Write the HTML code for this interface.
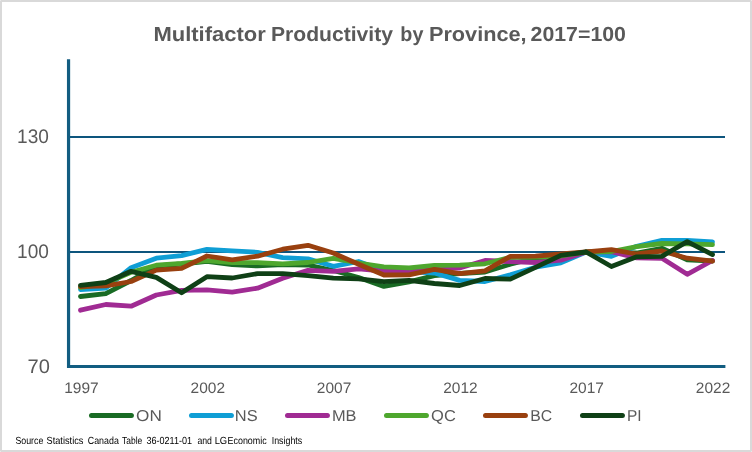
<!DOCTYPE html>
<html><head><meta charset="utf-8"><title>Multifactor Productivity by Province</title>
<style>
html,body{margin:0;padding:0;background:#fff;}
body{width:752px;height:452px;overflow:hidden;font-family:"Liberation Sans",sans-serif;}
svg{display:block;font-family:"Liberation Sans",sans-serif;text-rendering:geometricPrecision;}
</style></head><body>
<svg width="752" height="452" viewBox="0 0 752 452">
<rect x="0" y="0" width="752" height="452" fill="#d9d9d9"/>
<rect x="2" y="2" width="748" height="448" fill="#ffffff"/>
<rect x="0" y="0" width="1" height="1" fill="#e8e8e8"/><rect x="751" y="0" width="1" height="1" fill="#e8e8e8"/><rect x="0" y="451" width="1" height="1" fill="#e8e8e8"/><rect x="751" y="451" width="1" height="1" fill="#e8e8e8"/>
<line x1="68.5" y1="137" x2="725" y2="137" stroke="#0d557d" stroke-width="2"/>
<line x1="68.5" y1="252" x2="725" y2="252" stroke="#0d557d" stroke-width="2"/>
<polyline points="80.5,296.5 105.8,293.6 131.1,280.5 156.3,266.0 181.6,264.0 206.9,261.3 232.2,264.7 257.5,265.9 282.7,264.5 308.0,265.0 333.3,270.5 358.6,277.5 383.9,286.4 409.1,281.9 434.4,275.7 459.7,273.5 485.0,272.0 510.3,264.2 535.5,258.0 560.8,257.0 586.1,252.0 611.4,252.5 636.7,253.0 661.9,248.3 687.2,259.8 712.5,261.0" fill="none" stroke="#196B24" stroke-width="4.8" stroke-linecap="round" stroke-linejoin="round"/>
<polyline points="80.5,289.5 105.8,288.2 131.1,267.7 156.3,258.2 181.6,255.7 206.9,249.3 232.2,250.9 257.5,252.3 282.7,257.6 308.0,258.9 333.3,266.3 358.6,261.5 383.9,271.0 409.1,271.5 434.4,273.0 459.7,280.4 485.0,281.5 510.3,274.9 535.5,267.2 560.8,262.8 586.1,252.0 611.4,256.3 636.7,246.3 661.9,240.3 687.2,240.3 712.5,241.8" fill="none" stroke="#0F9ED5" stroke-width="4.8" stroke-linecap="round" stroke-linejoin="round"/>
<polyline points="80.5,310.2 105.8,304.5 131.1,306.2 156.3,295.0 181.6,290.4 206.9,289.9 232.2,292.1 257.5,288.2 282.7,278.2 308.0,270.3 333.3,271.3 358.6,268.9 383.9,271.1 409.1,271.9 434.4,268.5 459.7,268.0 485.0,260.5 510.3,261.5 535.5,262.5 560.8,260.2 586.1,252.0 611.4,251.7 636.7,257.8 661.9,258.3 687.2,274.3 712.5,260.5" fill="none" stroke="#A02B93" stroke-width="4.8" stroke-linecap="round" stroke-linejoin="round"/>
<polyline points="80.5,287.6 105.8,283.3 131.1,272.2 156.3,265.2 181.6,263.3 206.9,260.6 232.2,262.6 257.5,262.7 282.7,263.8 308.0,262.5 333.3,258.3 358.6,263.0 383.9,266.8 409.1,267.9 434.4,265.3 459.7,265.1 485.0,263.8 510.3,257.3 535.5,257.1 560.8,256.0 586.1,252.0 611.4,251.5 636.7,246.7 661.9,243.5 687.2,243.9 712.5,244.7" fill="none" stroke="#4EA72E" stroke-width="4.8" stroke-linecap="round" stroke-linejoin="round"/>
<polyline points="80.5,286.7 105.8,285.9 131.1,281.5 156.3,270.1 181.6,268.4 206.9,256.0 232.2,259.8 257.5,256.2 282.7,249.2 308.0,245.3 333.3,253.0 358.6,264.3 383.9,275.0 409.1,274.8 434.4,269.3 459.7,273.7 485.0,270.9 510.3,256.3 535.5,256.1 560.8,254.0 586.1,252.0 611.4,249.6 636.7,254.0 661.9,251.0 687.2,258.2 712.5,261.2" fill="none" stroke="#99400F" stroke-width="4.8" stroke-linecap="round" stroke-linejoin="round"/>
<polyline points="80.5,285.3 105.8,282.5 131.1,271.3 156.3,277.4 181.6,292.7 206.9,276.7 232.2,278.0 257.5,273.6 282.7,273.6 308.0,275.6 333.3,278.2 358.6,278.9 383.9,281.7 409.1,280.3 434.4,283.5 459.7,285.5 485.0,278.5 510.3,279.1 535.5,267.4 560.8,255.4 586.1,252.0 611.4,266.5 636.7,256.8 661.9,256.3 687.2,241.6 712.5,254.6" fill="none" stroke="#0F4016" stroke-width="4.8" stroke-linecap="round" stroke-linejoin="round"/>
<line x1="68.55" y1="59.3" x2="68.55" y2="368" stroke="#125d81" stroke-width="3.2"/>
<line x1="67" y1="366.5" x2="725.4" y2="366.5" stroke="#125d81" stroke-width="3"/>
<line x1="91.5" y1="415.4" x2="131.4" y2="415.4" stroke="#196B24" stroke-width="5" stroke-linecap="round"/>
<line x1="191.5" y1="415.4" x2="231.4" y2="415.4" stroke="#0F9ED5" stroke-width="5" stroke-linecap="round"/>
<line x1="287.5" y1="415.4" x2="327.4" y2="415.4" stroke="#A02B93" stroke-width="5" stroke-linecap="round"/>
<line x1="386.5" y1="415.4" x2="426.4" y2="415.4" stroke="#4EA72E" stroke-width="5" stroke-linecap="round"/>
<line x1="485.5" y1="415.4" x2="525.4" y2="415.4" stroke="#99400F" stroke-width="5" stroke-linecap="round"/>
<line x1="582.5" y1="415.4" x2="622.4" y2="415.4" stroke="#0F4016" stroke-width="5" stroke-linecap="round"/>
<text y="41.0" font-size="20.4" font-weight="bold" fill="#595959"><tspan x="153.42" textLength="112.37" lengthAdjust="spacingAndGlyphs">Multifactor</tspan> <tspan x="271.01" textLength="121.96" lengthAdjust="spacingAndGlyphs">Productivity</tspan> <tspan x="400.37" textLength="23.04" lengthAdjust="spacingAndGlyphs">by</tspan> <tspan x="428.93" textLength="97.74" lengthAdjust="spacingAndGlyphs">Province,</tspan> <tspan x="530.54" textLength="95.42" lengthAdjust="spacingAndGlyphs">2017=100</tspan></text>
<text y="143" font-size="19.6" fill="#595959"><tspan x="17.10" textLength="31.84" lengthAdjust="spacingAndGlyphs">130</tspan></text>
<text y="258" font-size="19.6" fill="#595959"><tspan x="17.10" textLength="31.84" lengthAdjust="spacingAndGlyphs">100</tspan></text>
<text y="373" font-size="19.6" fill="#595959"><tspan x="27.57" textLength="22.36" lengthAdjust="spacingAndGlyphs">70</tspan></text>
<text y="393" font-size="15.2" fill="#595959"><tspan x="64.18" textLength="34.43" lengthAdjust="spacingAndGlyphs">1997</tspan></text>
<text y="393" font-size="15.2" fill="#595959"><tspan x="190.62" textLength="34.44" lengthAdjust="spacingAndGlyphs">2002</tspan></text>
<text y="393" font-size="15.2" fill="#595959"><tspan x="316.82" textLength="34.44" lengthAdjust="spacingAndGlyphs">2007</tspan></text>
<text y="393" font-size="15.2" fill="#595959"><tspan x="443.22" textLength="34.44" lengthAdjust="spacingAndGlyphs">2012</tspan></text>
<text y="393" font-size="15.2" fill="#595959"><tspan x="569.52" textLength="34.44" lengthAdjust="spacingAndGlyphs">2017</tspan></text>
<text y="393" font-size="15.2" fill="#595959"><tspan x="695.82" textLength="34.44" lengthAdjust="spacingAndGlyphs">2022</tspan></text>
<text y="421" font-size="15.8" fill="#595959"><tspan x="136.10" textLength="25.71" lengthAdjust="spacingAndGlyphs">ON</tspan></text>
<text y="421" font-size="15.8" fill="#595959"><tspan x="234.81" textLength="22.81" lengthAdjust="spacingAndGlyphs">NS</tspan></text>
<text y="421" font-size="15.8" fill="#595959"><tspan x="331.91" textLength="24.61" lengthAdjust="spacingAndGlyphs">MB</tspan></text>
<text y="421" font-size="15.8" fill="#595959"><tspan x="431.12" textLength="24.67" lengthAdjust="spacingAndGlyphs">QC</tspan></text>
<text y="421" font-size="15.8" fill="#595959"><tspan x="530.24" textLength="21.92" lengthAdjust="spacingAndGlyphs">BC</tspan></text>
<text y="421" font-size="15.8" fill="#595959"><tspan x="626.97" textLength="14.59" lengthAdjust="spacingAndGlyphs">PI</tspan></text>
<text y="444" font-size="10.3" fill="#000000"><tspan x="15.38" textLength="27.96" lengthAdjust="spacingAndGlyphs">Source</tspan> <tspan x="46.49" textLength="36.95" lengthAdjust="spacingAndGlyphs">Statistics</tspan> <tspan x="87.79" textLength="31.03" lengthAdjust="spacingAndGlyphs">Canada</tspan> <tspan x="122.04" textLength="20.21" lengthAdjust="spacingAndGlyphs">Table</tspan> <tspan x="146.49" textLength="45.59" lengthAdjust="spacingAndGlyphs">36-0211-01</tspan> <tspan x="197.43" textLength="14.55" lengthAdjust="spacingAndGlyphs">and</tspan> <tspan x="214.64" textLength="12.57" lengthAdjust="spacingAndGlyphs">LG</tspan> <tspan x="227.53" textLength="39.16" lengthAdjust="spacingAndGlyphs">Economic</tspan> <tspan x="271.72" textLength="30.47" lengthAdjust="spacingAndGlyphs">Insights</tspan></text>
</svg>
</body></html>
